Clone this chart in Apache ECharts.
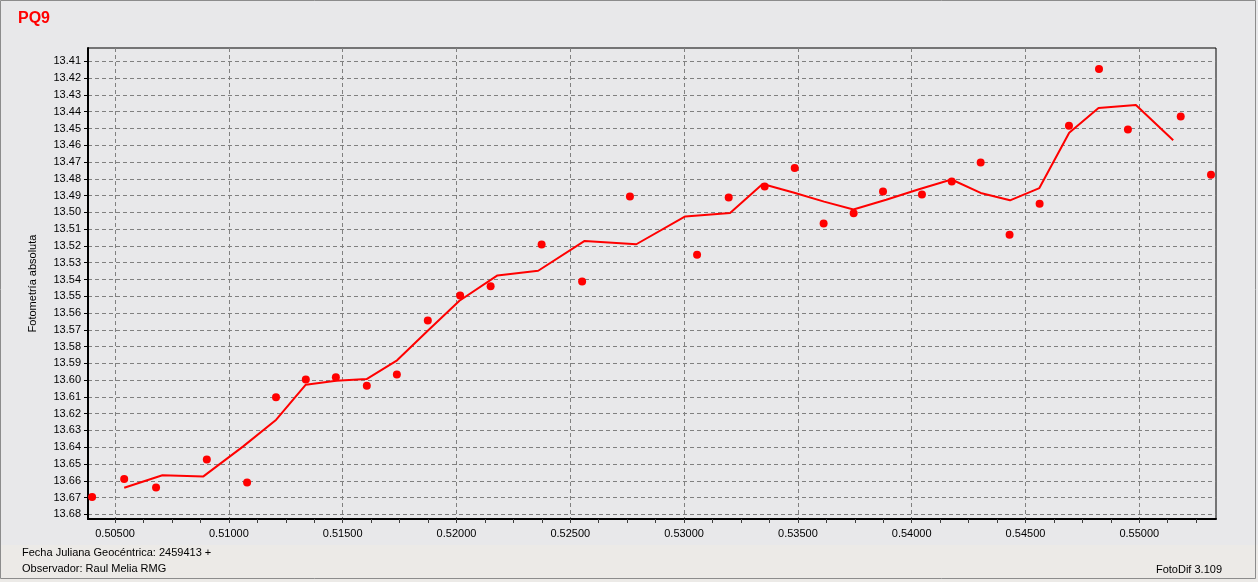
<!DOCTYPE html>
<html><head><meta charset="utf-8">
<script src="https://cdn.jsdelivr.net/npm/echarts@6/dist/echarts.min.js"></script>
<style>html,body{margin:0;padding:0;background:#E8E8EA}#c{width:1258px;height:582px}</style>
</head><body><div id="c"></div>
<script>
const chartTitle = 'PQ9';
const yAxisName = 'Fotometría absoluta';
const footLine1 = 'Fecha Juliana Geocéntrica: 2459413 +';
const footLine2 = 'Observador: Raul Melia RMG';
const footRight = 'FotoDif 3.109';

// observations (fractional JD, magnitude)
const obsX = [0.50399,0.50540,0.50680,0.50903,0.51080,0.51207,0.51338,0.51470,0.51606,0.51738,
  0.51874,0.52016,0.52150,0.52374,0.52552,0.52762,0.53057,0.53196,0.53354,0.53486,
  0.53613,0.53745,0.53874,0.54045,0.54176,0.54303,0.54430,0.54562,0.54691,0.54823,
  0.54950,0.55182,0.55315];
const obsY = [13.6697,13.6589,13.6640,13.6473,13.6610,13.6102,13.5997,13.5983,13.6033,13.5967,
  13.5645,13.5496,13.5440,13.5192,13.5412,13.4906,13.5253,13.4912,13.4846,13.4735,
  13.5067,13.5005,13.4876,13.4894,13.4816,13.4703,13.5134,13.4948,13.4483,13.4145,
  13.4506,13.4429,13.4775];

// smoothed curve vertices
const avgX = [0.50540,0.50708,0.50888,0.51063,0.51208,0.51338,0.51471,0.51605,0.51739,0.51876,
  0.52013,0.52180,0.52359,0.52563,0.52790,0.53005,0.53202,0.53345,0.53484,0.53615,
  0.53744,0.53888,0.54032,0.54175,0.54303,0.54432,0.54561,0.54692,0.54821,0.54985,0.55149];
const avgY = [13.6642,13.6567,13.6574,13.6395,13.6236,13.6027,13.6004,13.5994,13.5882,13.5703,
  13.5527,13.5376,13.5348,13.5170,13.5190,13.5024,13.5004,13.4831,13.4883,13.4936,
  13.4983,13.4925,13.4862,13.4804,13.4884,13.4928,13.4855,13.4525,13.4378,13.4360,13.4570];

const yTicks = [13.41,13.42,13.43,13.44,13.45,13.46,13.47,13.48,13.49,13.50,13.51,13.52,13.53,13.54,
  13.55,13.56,13.57,13.58,13.59,13.60,13.61,13.62,13.63,13.64,13.65,13.66,13.67,13.68];
const xTicks = [0.505,0.510,0.515,0.520,0.525,0.530,0.535,0.540,0.545,0.550];
const xSmallTicks = [0.50500,0.50625,0.50750,0.50875,0.51000,0.51125,0.51250,0.51375,0.51500,0.51625,
  0.51750,0.51875,0.52000,0.52125,0.52250,0.52375,0.52500,0.52625,0.52750,0.52875,0.53000,0.53125,
  0.53250,0.53375,0.53500,0.53625,0.53750,0.53875,0.54000,0.54125,0.54250,0.54375,0.54500,0.54625,
  0.54750,0.54875,0.55000,0.55125,0.55250];

const X_MIN = 0.50381, X_MAX = 0.55337, Y_MIN = 13.4020, Y_MAX = 13.6828;
const FONT = '"Liberation Sans", Arial, sans-serif';

const chart = echarts.init(document.getElementById('c'), null, {renderer: 'canvas'});
chart.setOption({
  animation: false,
  backgroundColor: '#E8E8EA',
  textStyle: {fontFamily: FONT},
  grid: {left: 88, right: 42, top: 48, bottom: 63, show: true, backgroundColor: '#E8E8EA', borderColor: '#000', borderWidth: 1},
  xAxis: [{
    type: 'value', min: X_MIN, max: X_MAX, gridIndex: 0, position: 'bottom',
    axisLine: {show: true, onZero: false, lineStyle: {color: '#000', width: 2}},
    axisTick: {show: false, customValues: xTicks},
    axisLabel: {customValues: xTicks, formatter: v => v.toFixed(5), color: '#000', fontSize: 11, fontFamily: FONT, margin: 9},
    splitLine: {show: true, lineStyle: {color: '#808080', width: 1, type: [4, 3]}}
  }, {
    type: 'value', min: X_MIN, max: X_MAX, gridIndex: 0, position: 'bottom',
    axisLine: {show: false},
    axisTick: {show: true, customValues: xSmallTicks, length: 4, lineStyle: {color: '#404040', width: 1}},
    axisLabel: {show: false},
    splitLine: {show: false}
  }],
  yAxis: {
    type: 'value', inverse: true, min: Y_MIN, max: Y_MAX,
    name: yAxisName, nameLocation: 'middle', nameGap: 50,
    nameTextStyle: {color: '#000', fontSize: 11, fontFamily: FONT},
    axisLine: {show: true, onZero: false, lineStyle: {color: '#000', width: 2}},
    axisTick: {show: true, customValues: yTicks, length: 4, lineStyle: {color: '#000'}},
    axisLabel: {customValues: yTicks, formatter: v => v.toFixed(2), color: '#000', fontSize: 11, fontFamily: FONT, margin: 7},
    splitLine: {show: true, lineStyle: {color: '#808080', width: 1, type: [4, 3]}}
  },
  series: [{
    type: 'line', xAxisIndex: 0,
    data: avgX.map((x, i) => [x, avgY[i]]),
    showSymbol: false, symbol: 'none',
    lineStyle: {color: '#FF0000', width: 2},
    z: 2
  }, {
    type: 'scatter', xAxisIndex: 0,
    data: obsX.map((x, i) => [x, obsY[i]]),
    symbol: 'circle', symbolSize: 8,
    itemStyle: {color: '#FF0000', opacity: 1},
    z: 3
  }],
  graphic: [
    {type: 'rect', silent: true, z: -10, shape: {x: 0, y: 545, width: 1258, height: 37}, style: {fill: '#ECEAE7'}},
    {type: 'rect', silent: true, z: 100, shape: {x: 0.5, y: 0.5, width: 1255, height: 578}, style: {fill: 'none', stroke: '#8C8C8C', lineWidth: 1}},
    {type: 'text', left: 18, top: 11, style: {text: chartTitle, fill: '#FF0000', font: 'bold 16px ' + FONT}},
    {type: 'text', left: 22, top: 547, style: {text: footLine1, fill: '#000', font: '11px ' + FONT}},
    {type: 'text', left: 22, top: 563, style: {text: footLine2, fill: '#000', font: '11px ' + FONT}},
    {type: 'text', right: 36, top: 564, style: {text: footRight, fill: '#000', font: '11px ' + FONT}}
  ]
});
</script></body></html>
